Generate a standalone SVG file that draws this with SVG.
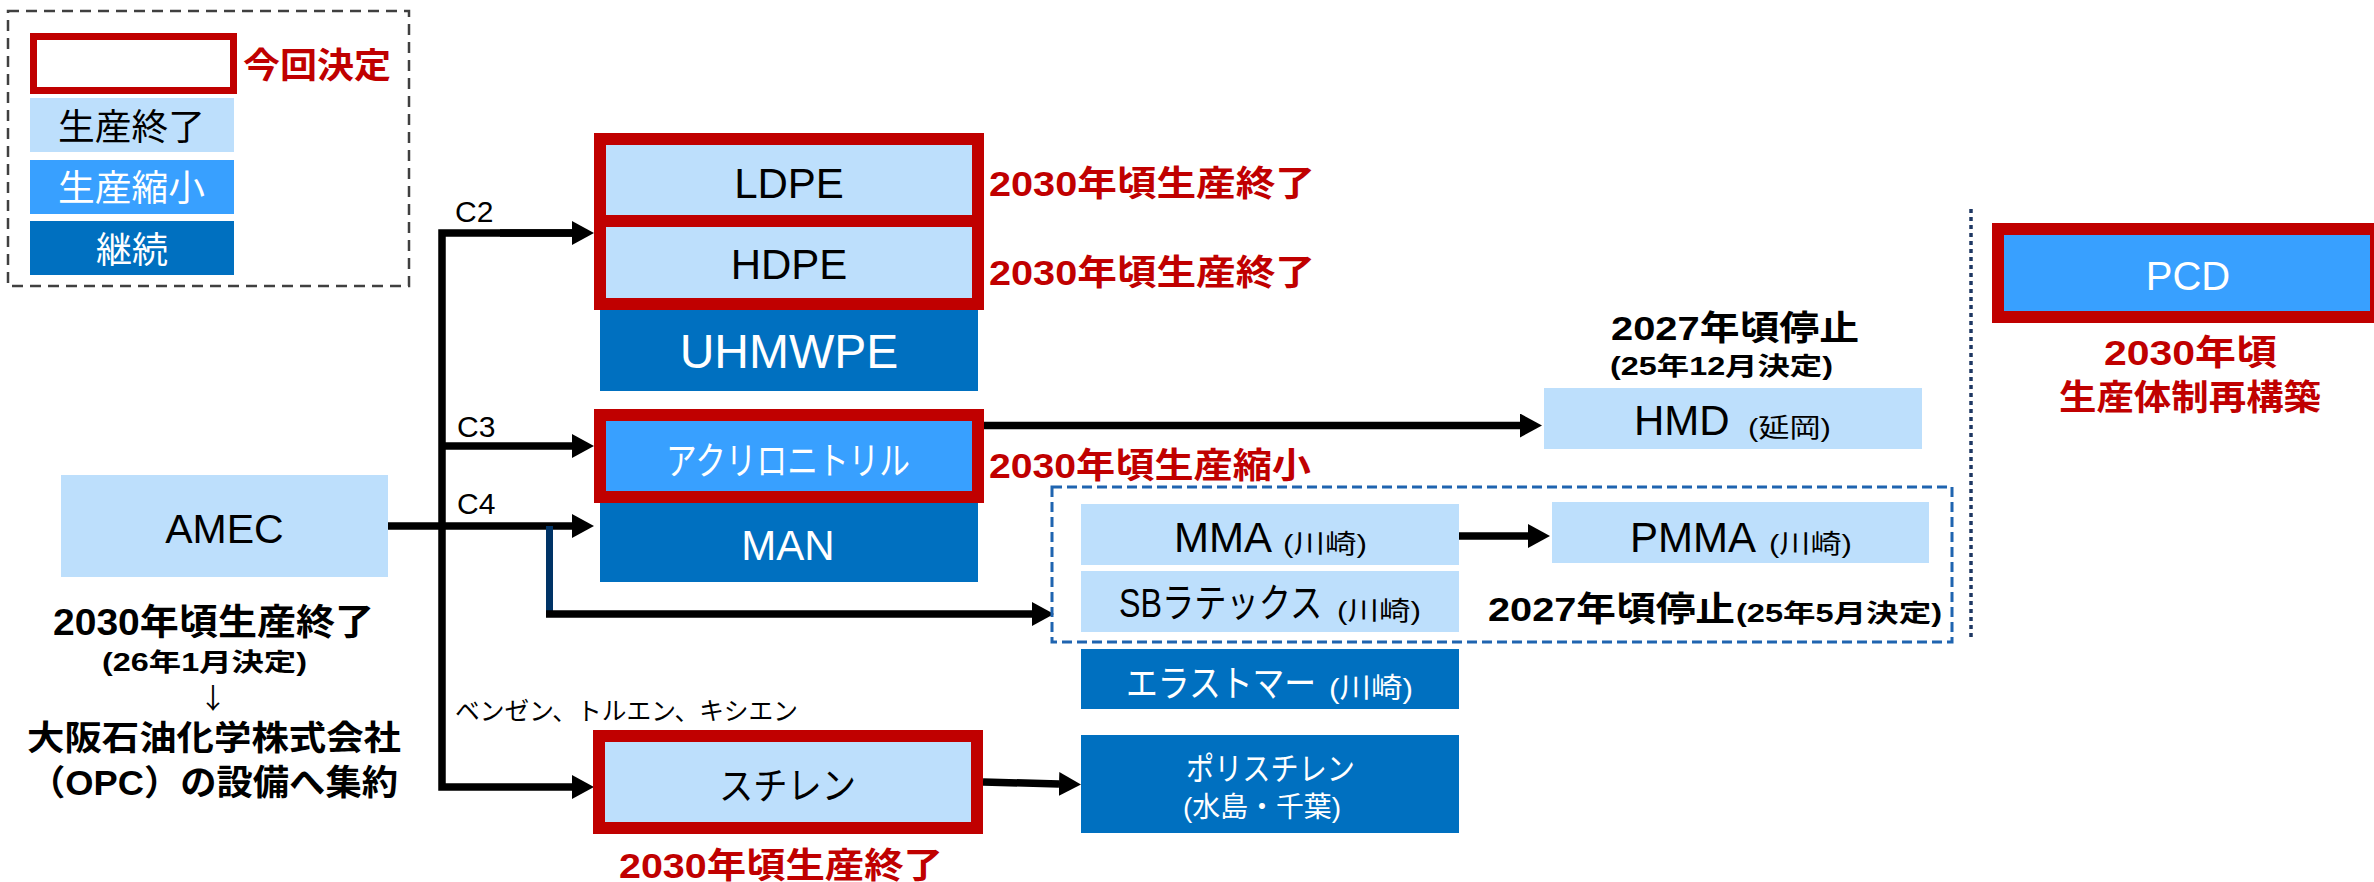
<svg xmlns="http://www.w3.org/2000/svg" width="2374" height="882" viewBox="0 0 2374 882">
<style>
text{font-family:"Liberation Sans","Noto Sans CJK JP",sans-serif;}
.b{font-weight:bold;}
.red{fill:#C00000;}
.blk{fill:#000000;}
.wht{fill:#FFFFFF;}
.light{fill:#BDDFFC;}
.mid{fill:#38A0FF;}
.dark{fill:#0070C0;}
.sel{stroke:#C00000;stroke-width:12;}
.ln{fill:none;stroke:#000000;stroke-width:7.5;stroke-linejoin:miter;}
</style>
<defs>
<marker id="ah" markerUnits="userSpaceOnUse" markerWidth="24" markerHeight="24" viewBox="0 0 24 24" refX="0" refY="12" orient="auto">
<path d="M0,0 L22,12 L0,24 Z" fill="#000000"/>
</marker>
</defs>
<rect width="2374" height="882" fill="#FFFFFF"/>

<g id="legend">
<rect x="8" y="11" width="401" height="275" fill="none" stroke="#404040" stroke-width="2.5" stroke-dasharray="11 7"/>
<rect x="33.5" y="36.5" width="200" height="54" fill="#FFFFFF" stroke="#C00000" stroke-width="7"/>
<text x="243" y="77.5" class="b red" font-size="35" textLength="148" lengthAdjust="spacingAndGlyphs">今回決定</text>
<rect x="30" y="98" width="204" height="54" class="light"/>
<text x="58" y="139.5" class="blk" font-size="36" textLength="147" lengthAdjust="spacingAndGlyphs">生産終了</text>
<rect x="30" y="160" width="204" height="54" class="mid"/>
<text x="58" y="201" class="wht" font-size="36" textLength="147" lengthAdjust="spacingAndGlyphs">生産縮小</text>
<rect x="30" y="221" width="204" height="54" class="dark"/>
<text x="96" y="262.5" class="wht" font-size="36" textLength="72" lengthAdjust="spacingAndGlyphs">継続</text>
</g>

<g id="connectors">
<path class="ln" d="M572,233 H442 V787 H572" marker-end="url(#ah)"/>
<path class="ln" d="M500,233 H572" marker-end="url(#ah)"/>
<path class="ln" d="M442,446 H572" marker-end="url(#ah)"/>
<path class="ln" d="M388,526 H572" marker-end="url(#ah)"/>
<path d="M549.5,526 V613" fill="none" stroke="#003366" stroke-width="7"/>
<path class="ln" d="M546,614 H1032" marker-end="url(#ah)"/>
<path class="ln" d="M983,425.5 H1520" marker-end="url(#ah)"/>
<path class="ln" d="M1459,536 H1528" marker-end="url(#ah)"/>
<path class="ln" d="M983,782 L1059,784" marker-end="url(#ah)"/>
<text x="455" y="222" class="blk" font-size="30">C2</text>
<text x="457" y="437" class="blk" font-size="30">C3</text>
<text x="457" y="514" class="blk" font-size="30">C4</text>
<text x="455" y="720" class="blk" font-size="25" textLength="343" lengthAdjust="spacingAndGlyphs">ベンゼン、トルエン、キシエン</text>
<path d="M1971,209 V637" fill="none" stroke="#1F3864" stroke-width="3.5" stroke-dasharray="4 4"/>
</g>

<g id="amec">
<rect x="61" y="475" width="327" height="102" class="light"/>
<text x="224.5" y="543" class="blk" font-size="41" text-anchor="middle">AMEC</text>
<text x="53" y="634.5" class="b blk" font-size="36" textLength="321" lengthAdjust="spacingAndGlyphs">2030年頃生産終了</text>
<text x="102" y="671" class="b blk" font-size="25" textLength="205" lengthAdjust="spacingAndGlyphs">(26年1月決定)</text>
<text x="213" y="709" class="blk" font-size="28" text-anchor="middle" style="font-family:'Noto Sans CJK JP',sans-serif">↓</text>
<text x="27" y="749.5" class="b blk" font-size="34" textLength="374" lengthAdjust="spacingAndGlyphs">大阪石油化学株式会社</text>
<text x="29" y="794.5" class="b blk" font-size="35" textLength="369" lengthAdjust="spacingAndGlyphs">（OPC）の設備へ集約</text>
</g>

<g id="uhmwpe">
<rect x="600" y="310" width="378" height="81" class="dark"/>
<text x="789" y="368" class="wht" font-size="48" text-anchor="middle">UHMWPE</text>
</g>
<g id="ldpe">
<rect x="600" y="139" width="378" height="82" class="light sel"/>
<text x="789" y="198" class="blk" font-size="42" text-anchor="middle">LDPE</text>
<text x="989" y="195.5" class="b red" font-size="35" textLength="326" lengthAdjust="spacingAndGlyphs">2030年頃生産終了</text>
</g>
<g id="hdpe">
<rect x="600" y="221" width="378" height="83" class="light sel"/>
<text x="789" y="279" class="blk" font-size="42" text-anchor="middle">HDPE</text>
<text x="989" y="284.5" class="b red" font-size="35" textLength="326" lengthAdjust="spacingAndGlyphs">2030年頃生産終了</text>
</g>

<g id="man">
<rect x="600" y="503" width="378" height="79" class="dark"/>
<text x="788" y="560" class="wht" font-size="42" text-anchor="middle">MAN</text>
</g>
<g id="acrylonitrile">
<rect x="600" y="415" width="378" height="82" class="mid sel"/>
<text x="666" y="474" class="wht" font-size="38" textLength="244" lengthAdjust="spacingAndGlyphs">アクリロニトリル</text>
<text x="989" y="477.5" class="b red" font-size="35" textLength="322" lengthAdjust="spacingAndGlyphs">2030年頃生産縮小</text>
</g>

<g id="styrene">
<rect x="599" y="736" width="378" height="92" class="light sel"/>
<text x="719" y="799" class="blk" font-size="38" textLength="137" lengthAdjust="spacingAndGlyphs">スチレン</text>
<text x="619" y="877.5" class="b red" font-size="35" textLength="324" lengthAdjust="spacingAndGlyphs">2030年頃生産終了</text>
</g>

<g id="hmd">
<text x="1611" y="339.5" class="b blk" font-size="34" textLength="248" lengthAdjust="spacingAndGlyphs">2027年頃停止</text>
<text x="1610" y="375" class="b blk" font-size="25" textLength="223" lengthAdjust="spacingAndGlyphs">(25年12月決定)</text>
<rect x="1544" y="388" width="378" height="61" class="light"/>
<text x="1634" y="435" class="blk" font-size="42">HMD</text>
<text x="1748" y="437" class="blk" font-size="26" textLength="83" lengthAdjust="spacingAndGlyphs">(延岡)</text>
</g>

<g id="stop-group">
<rect x="1052" y="487" width="900" height="155" fill="none" stroke="#1F64B0" stroke-width="3" stroke-dasharray="10 5"/>
<text x="1488" y="620.5" class="b blk" font-size="34" textLength="247" lengthAdjust="spacingAndGlyphs">2027年頃停止</text>
<text x="1736" y="622" class="b blk" font-size="25" textLength="206" lengthAdjust="spacingAndGlyphs">(25年5月決定)</text>
</g>
<g id="mma">
<rect x="1081" y="504" width="378" height="61" class="light"/>
<text x="1174" y="552" class="blk" font-size="42">MMA</text>
<text x="1283" y="553" class="blk" font-size="26" textLength="84" lengthAdjust="spacingAndGlyphs">(川崎)</text>
</g>
<g id="pmma">
<rect x="1552" y="502" width="377" height="61" class="light"/>
<text x="1630" y="552" class="blk" font-size="42">PMMA</text>
<text x="1769" y="553" class="blk" font-size="26" textLength="83" lengthAdjust="spacingAndGlyphs">(川崎)</text>
</g>
<g id="sblatex">
<rect x="1081" y="571" width="378" height="61" class="light"/>
<text transform="translate(1119,617) scale(0.8,1)" class="blk" font-size="40" textLength="254" lengthAdjust="spacingAndGlyphs">SBラテックス</text>
<text x="1337" y="620" class="blk" font-size="26" textLength="84" lengthAdjust="spacingAndGlyphs">(川崎)</text>
</g>
<g id="elastomer">
<rect x="1081" y="649" width="378" height="60" class="dark"/>
<text transform="translate(1126,697) scale(0.856,1)" class="wht" font-size="37" textLength="222" lengthAdjust="spacingAndGlyphs">エラストマー</text>
<text x="1329" y="698" class="wht" font-size="28" textLength="84" lengthAdjust="spacingAndGlyphs">(川崎)</text>
</g>
<g id="polystyrene">
<rect x="1081" y="735" width="378" height="98" class="dark"/>
<text x="1186" y="780" class="wht" font-size="32" textLength="169" lengthAdjust="spacingAndGlyphs">ポリスチレン</text>
<text x="1183" y="817" class="wht" font-size="28" textLength="158" lengthAdjust="spacingAndGlyphs">(水島・千葉)</text>
</g>

<g id="pcd">
<rect x="1998" y="229" width="378" height="88" class="mid sel"/>
<text x="2188" y="290" class="wht" font-size="40" text-anchor="middle">PCD</text>
<text x="2104" y="364.5" class="b red" font-size="35" textLength="173" lengthAdjust="spacingAndGlyphs">2030年頃</text>
<text x="2059" y="409.5" class="b red" font-size="35" textLength="262" lengthAdjust="spacingAndGlyphs">生産体制再構築</text>
</g>
</svg>
